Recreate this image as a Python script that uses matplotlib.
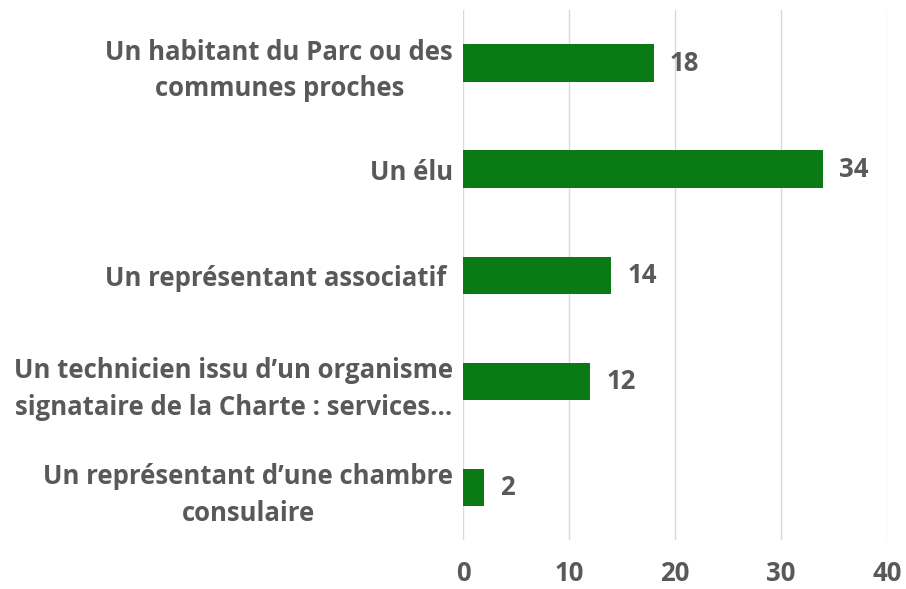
import matplotlib
matplotlib.use('Agg')
import matplotlib.pyplot as plt

# Data (top to bottom as shown in the chart)
categories = [
    "Un habitant du Parc ou des\ncommunes proches",
    "Un élu",
    "Un représentant associatif ",
    "Un technicien issu d\u2019un organisme\nsignataire de la Charte : services\u2026",
    "Un représentant d\u2019une chambre\nconsulaire",
]
values = [18, 34, 14, 12, 2]
xticks = [0, 10, 20, 30, 40]

text_color = '#595959'
bar_color = '#0a7a14'
plt.rcParams['font.family'] = ['Open Sans', 'DejaVu Sans']

fig = plt.figure(figsize=(9.06, 5.89), dpi=100)
ax = fig.add_axes([0.511, 0.083, 0.468, 0.9])

ypos = list(range(len(categories)))
ax.barh(ypos, values, height=0.35, color=bar_color, zorder=3)

for y, v in zip(ypos, values):
    ax.text(v + 1.5, y, str(v), va='center', ha='left', fontsize=18.5,
            fontweight='bold', color=text_color)

ax.set_ylim(len(categories) - 0.5, -0.5)
ax.set_xlim(0, 40)
ax.set_xticks(xticks)
ax.set_xticklabels([str(t) for t in xticks], fontsize=18.5, fontweight='bold', color=text_color)
ax.set_yticks(ypos)
ax.set_yticklabels(categories, fontsize=18.5, fontweight='bold', color=text_color,
                   multialignment='center', linespacing=1.45)
ax.tick_params(axis='both', length=0)
ax.tick_params(axis='x', pad=14)
ax.tick_params(axis='y', pad=7)

ax.grid(axis='x', color='#d9d9d9', linewidth=1, zorder=0)
for s in ax.spines.values():
    s.set_visible(False)

fig.savefig('out.png', dpi=100)
